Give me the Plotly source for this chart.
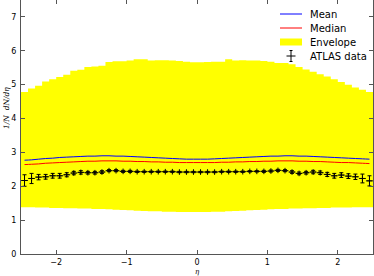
import plotly.graph_objects as go

# --- data ---
eta_edges = [round(-2.5 + 0.1 * i, 2) for i in range(51)]
eta_centers = [round(-2.45 + 0.1 * i, 2) for i in range(50)]

env_upper = [4.78, 4.89, 4.97, 5.09, 5.16, 5.23, 5.29, 5.41, 5.44, 5.52,
             5.54, 5.56, 5.67, 5.69, 5.69, 5.71, 5.75, 5.75, 5.71, 5.72,
             5.72, 5.71, 5.70, 5.68, 5.66, 5.66, 5.67, 5.68, 5.68, 5.75,
             5.71, 5.72, 5.71, 5.71, 5.70, 5.68, 5.64, 5.64, 5.60, 5.52,
             5.45, 5.38, 5.31, 5.24, 5.16, 5.08, 5.00, 4.92, 4.85, 4.78]
env_lower = [1.38, 1.38, 1.37, 1.37, 1.36, 1.36, 1.35, 1.35, 1.34, 1.34,
             1.33, 1.33, 1.32, 1.31, 1.30, 1.29, 1.28, 1.27, 1.26, 1.26,
             1.25, 1.25, 1.24, 1.24, 1.24, 1.24, 1.24, 1.25, 1.25, 1.26,
             1.27, 1.28, 1.29, 1.30, 1.31, 1.32, 1.33, 1.33, 1.34, 1.34,
             1.35, 1.35, 1.36, 1.36, 1.37, 1.37, 1.37, 1.38, 1.38, 1.38]

mean_vals = [2.77, 2.78, 2.80, 2.82, 2.83, 2.85, 2.86, 2.87, 2.88, 2.89,
             2.89, 2.90, 2.90, 2.89, 2.89, 2.88, 2.87, 2.86, 2.85, 2.84,
             2.83, 2.82, 2.81, 2.80, 2.80, 2.80, 2.80, 2.81, 2.82, 2.83,
             2.84, 2.85, 2.86, 2.87, 2.88, 2.89, 2.89, 2.90, 2.90, 2.89,
             2.89, 2.88, 2.87, 2.86, 2.85, 2.84, 2.83, 2.82, 2.81, 2.80]
median_vals = [2.64, 2.65, 2.66, 2.68, 2.69, 2.70, 2.71, 2.72, 2.73, 2.74,
               2.74, 2.75, 2.75, 2.75, 2.74, 2.74, 2.73, 2.73, 2.72, 2.72,
               2.71, 2.71, 2.70, 2.70, 2.70, 2.70, 2.70, 2.70, 2.71, 2.71,
               2.72, 2.72, 2.73, 2.73, 2.74, 2.74, 2.75, 2.75, 2.75, 2.74,
               2.74, 2.73, 2.73, 2.72, 2.71, 2.70, 2.70, 2.69, 2.68, 2.67]

atlas_vals = [2.17, 2.23, 2.27, 2.28, 2.31, 2.31, 2.34, 2.39, 2.41, 2.40,
              2.40, 2.42, 2.46, 2.46, 2.44, 2.44, 2.43, 2.43, 2.43, 2.43,
              2.43, 2.43, 2.42, 2.42, 2.42, 2.42, 2.42, 2.42, 2.43, 2.43,
              2.43, 2.43, 2.44, 2.44, 2.44, 2.45, 2.47, 2.46, 2.42, 2.38,
              2.40, 2.42, 2.40, 2.35, 2.31, 2.33, 2.30, 2.28, 2.23, 2.16]
atlas_err = [0.17, 0.15, 0.08, 0.07, 0.07, 0.07, 0.06, 0.05, 0.05, 0.04,
             0.04, 0.04, 0.03, 0.03, 0.03, 0.03, 0.02, 0.02, 0.02, 0.02,
             0.02, 0.02, 0.02, 0.02, 0.02, 0.02, 0.02, 0.02, 0.02, 0.02,
             0.02, 0.02, 0.02, 0.02, 0.03, 0.03, 0.03, 0.03, 0.04, 0.04,
             0.04, 0.05, 0.05, 0.06, 0.07, 0.07, 0.07, 0.08, 0.13, 0.15]
bin_halfwidth = [0.05] * 50

x_ticks = [-2, -1, 0, 1, 2]
y_ticks = [0, 1, 2, 3, 4, 5, 6, 7]

legend_labels = ["Mean", "Median", "Envelope", "ATLAS data"]

W, H = 374, 276
ML, MR, MT, MB = 21, 1, 0, 22
PW, PH = W - ML - MR, H - MT - MB


def px_x(p):
    return (p - ML) / PW


def px_y(p):
    return (H - MB - p) / PH


fig = go.Figure()

# envelope: lower step, then upper step filled to lower
fig.add_trace(go.Scatter(x=eta_edges, y=env_lower + [env_lower[-1]], mode="lines",
                         line=dict(shape="hv", width=0, color="#ffff00"),
                         showlegend=False, hoverinfo="skip"))
fig.add_trace(go.Scatter(x=eta_edges, y=env_upper + [env_upper[-1]], mode="lines",
                         line=dict(shape="hv", width=0, color="#ffff00"),
                         fill="tonexty", fillcolor="#ffff00",
                         name="Envelope", showlegend=False))

fig.add_trace(go.Scatter(x=eta_centers, y=mean_vals, mode="lines",
                         line=dict(color="#0000ff", width=1, shape="spline"),
                         name="Mean", showlegend=False))
fig.add_trace(go.Scatter(x=eta_centers, y=median_vals, mode="lines",
                         line=dict(color="#ff0000", width=1, shape="spline"),
                         name="Median", showlegend=False))

fig.add_trace(go.Scatter(x=eta_centers, y=atlas_vals, mode="markers",
                         marker=dict(symbol="cross-thin-open", size=4, color="black",
                                     line=dict(color="black", width=1)),
                         error_y=dict(type="data", array=atlas_err, color="black",
                                      thickness=1, width=2),
                         error_x=dict(type="data", array=bin_halfwidth, color="black",
                                      thickness=0.8, width=0),
                         name="ATLAS data", showlegend=False))

axis_common = dict(showline=True, linecolor="#555", linewidth=1, mirror="allticks",
                   ticks="inside", ticklen=4, tickcolor="#555", showgrid=False,
                   zeroline=False, automargin=False,
                   tickfont=dict(family="DejaVu Sans", size=8, color="black"))

fig.update_xaxes(range=[-2.5, 2.5], tickvals=x_ticks, ticklabelstandoff=0, **axis_common)
fig.update_yaxes(range=[0, 7.5], tickvals=y_ticks, ticklabelstandoff=2, **axis_common)

fig.add_annotation(text="<i>1/N  dN/d\u03b7</i>", xref="paper", yref="paper",
                   x=px_x(6), y=px_y(108), textangle=-90, showarrow=False,
                   font=dict(family="DejaVu Serif", size=7.5, color="black"),
                   xanchor="center", yanchor="middle")
fig.add_annotation(text="<i>\u03b7</i>", xref="paper", yref="paper",
                   x=0.5, y=px_y(272), showarrow=False,
                   font=dict(family="DejaVu Serif", size=7, color="black"),
                   xanchor="center", yanchor="middle")

# --- manual legend (matplotlib-like compact spacing) ---
rows = [14, 28, 42, 56]
kx0, kx1, tx = 280, 302, 308
shapes = []
shapes.append(dict(type="line", xref="paper", yref="paper",
                   x0=px_x(kx0), x1=px_x(kx1), y0=px_y(rows[0]), y1=px_y(rows[0]),
                   line=dict(color="#0000ff", width=1)))
shapes.append(dict(type="line", xref="paper", yref="paper",
                   x0=px_x(kx0), x1=px_x(kx1), y0=px_y(rows[1]), y1=px_y(rows[1]),
                   line=dict(color="#ff0000", width=1)))
shapes.append(dict(type="rect", xref="paper", yref="paper",
                   x0=px_x(kx0), x1=px_x(kx1), y0=px_y(rows[2] + 3.5), y1=px_y(rows[2] - 3.5),
                   fillcolor="#ffff00", line=dict(width=0)))
cx = (kx0 + kx1) / 2
shapes.append(dict(type="line", xref="paper", yref="paper",
                   x0=px_x(cx), x1=px_x(cx), y0=px_y(rows[3] - 5.5), y1=px_y(rows[3] + 5.5),
                   line=dict(color="black", width=1)))
shapes.append(dict(type="line", xref="paper", yref="paper",
                   x0=px_x(cx - 4.5), x1=px_x(cx + 4.5), y0=px_y(rows[3]), y1=px_y(rows[3]),
                   line=dict(color="black", width=1)))
for cap in (rows[3] - 5.5, rows[3] + 5.5):
    shapes.append(dict(type="line", xref="paper", yref="paper",
                       x0=px_x(cx - 1.5), x1=px_x(cx + 1.5), y0=px_y(cap), y1=px_y(cap),
                       line=dict(color="black", width=1)))
for lab, r in zip(legend_labels, rows):
    fig.add_annotation(text=lab, xref="paper", yref="paper", x=px_x(tx), y=px_y(r),
                       xanchor="left", yanchor="middle", showarrow=False,
                       font=dict(family="DejaVu Sans", size=10, color="black"))

fig.update_layout(
    width=W, height=H,
    margin=dict(l=ML, r=MR, t=MT, b=MB, autoexpand=False),
    plot_bgcolor="white", paper_bgcolor="white",
    showlegend=False,
    shapes=shapes,
)

fig.write_html("out.html", config={"displayModeBar": False},
               post_script="document.body.style.margin='0';document.body.style.padding='0';")
